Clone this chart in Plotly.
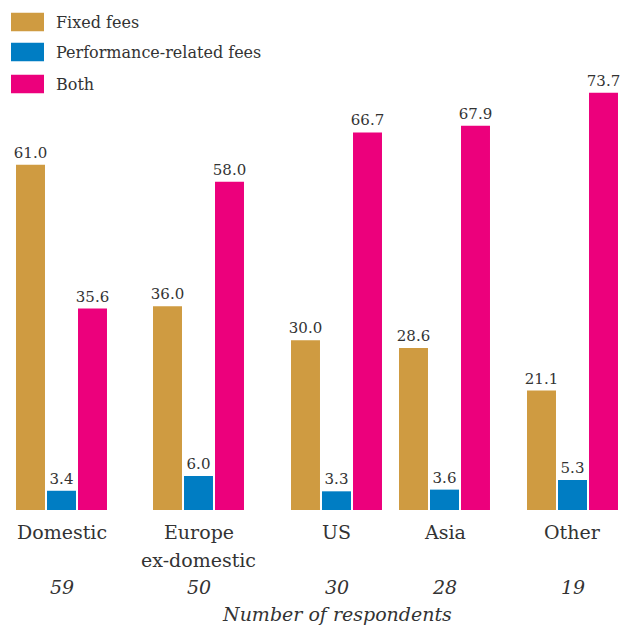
import plotly.graph_objects as go

# ---------------- data ----------------
categories = ["Domestic", "Europe<br>ex-domestic", "US", "Asia", "Other"]
respondents = [59, 50, 30, 28, 19]
series_names = ["Fixed fees", "Performance-related fees", "Both"]
fixed_fees = [61.0, 36.0, 30.0, 28.6, 21.1]
performance_fees = [3.4, 6.0, 3.3, 3.6, 5.3]
both_fees = [35.6, 58.0, 66.7, 67.9, 73.7]
axis_title = "Number of respondents"

# ---------------- layout / style ----------------
W, H = 621, 626
PLOT_H = 510                      # plot area height in px (baseline at y=510)
Y_MAX = PLOT_H / 5.66             # 5.66 px per percentage point
group_centers = [61.5, 198.5, 336.5, 444.5, 572.5]
colors = ["#CF9B41", "#007DC3", "#EC007C"]
FONT = "DejaVu Serif"
TEXT = "#333333"


def py(p):
    """pixel row -> paper y"""
    return (PLOT_H - p) / PLOT_H


def px(p):
    return p / W


fig = go.Figure()
for name, vals, col in zip(series_names, [fixed_fees, performance_fees, both_fees], colors):
    fig.add_trace(go.Bar(
        x=group_centers, y=vals, name=name,
        marker=dict(color=col, line=dict(width=0)),
        text=[f"{v:.1f}" for v in vals],
        textposition="outside", constraintext="none", cliponaxis=False,
        textfont=dict(family=FONT, size=15, color=TEXT),
        showlegend=False, hoverinfo="skip",
    ))

annotations = []
shapes = []

# category labels (multi-line handled as separate lines)
for xc, cat in zip(group_centers, categories):
    for i, line in enumerate(cat.split("<br>")):
        annotations.append(dict(
            x=xc, xref="x", y=py(532 + 28 * i), yref="paper",
            text=line, showarrow=False, xanchor="center", yanchor="middle",
            font=dict(family=FONT, size=19, color=TEXT)))

# respondent counts
for xc, n in zip(group_centers, respondents):
    annotations.append(dict(
        x=xc, xref="x", y=py(587), yref="paper",
        text=f"<i>{n}</i>", showarrow=False, xanchor="center", yanchor="middle",
        font=dict(family=FONT, size=19, color=TEXT)))

annotations.append(dict(
    x=337, xref="x", y=py(614), yref="paper",
    text=f"<i>{axis_title}</i>", showarrow=False, xanchor="center", yanchor="middle",
    font=dict(family=FONT, size=19, color=TEXT)))

# custom legend with large swatches
legend_rows = [22, 52, 84]
for name, col, yc in zip(series_names, colors, legend_rows):
    shapes.append(dict(type="rect", xref="paper", yref="paper",
                       x0=px(11), x1=px(44), y0=py(yc - 9.3), y1=py(yc + 9.3),
                       fillcolor=col, line=dict(width=0)))
    annotations.append(dict(
        x=px(54), xref="paper", y=py(yc + 1), yref="paper",
        text=name, showarrow=False, xanchor="left", yanchor="middle",
        font=dict(family=FONT, size=16, color=TEXT)))

fig.update_layout(
    width=W, height=H, autosize=False,
    margin=dict(l=0, r=0, t=0, b=H - PLOT_H, pad=0),
    paper_bgcolor="white", plot_bgcolor="white",
    barmode="group", bargap=0.139, bargroupgap=0.065,
    xaxis=dict(range=[0, W], showticklabels=False, showgrid=False,
               zeroline=False, showline=False, ticks="", fixedrange=True),
    yaxis=dict(range=[0, Y_MAX], showticklabels=False, showgrid=False,
               zeroline=False, showline=False, ticks="", fixedrange=True),
    annotations=annotations, shapes=shapes,
    showlegend=False,
)

fig.write_html("out.html")
